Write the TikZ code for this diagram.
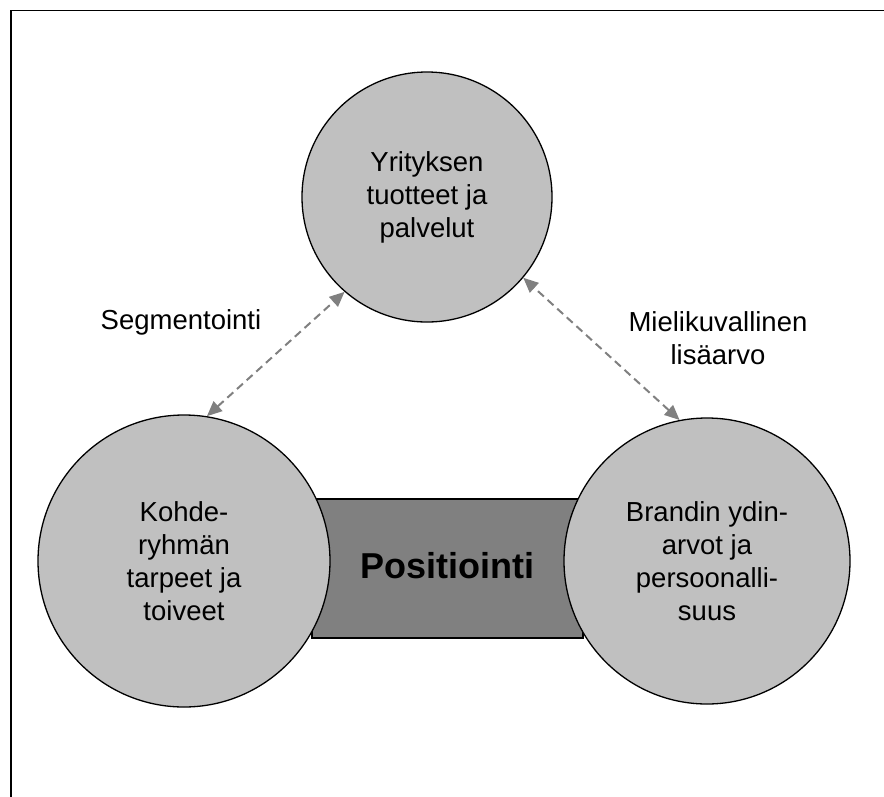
\documentclass[tikz,border=0pt]{standalone}
\usepackage{fontspec}
\setmainfont{Liberation Sans}
\usetikzlibrary{arrows.meta}
\definecolor{circgray}{RGB}{192,192,192}
\definecolor{boxgray}{RGB}{128,128,128}
\definecolor{arrgray}{RGB}{128,128,128}
\begin{document}
\begin{tikzpicture}[x=1pt,y=-1pt,
  bubble/.style={circle, draw=black, line width=1.3pt, fill=circgray, inner sep=0pt,
    minimum size=#1, align=center, font=\fontsize{27.5}{33}\selectfont},
  posbox/.style={draw=black, line width=1.3pt, fill=boxgray, inner sep=0pt,
    font=\bfseries\fontsize{36}{40}\selectfont},
  conn/.style={arrgray, line width=2pt, dash pattern=on 8pt off 5pt,
    {Triangle[length=15pt,width=13pt]}-{Triangle[length=15pt,width=13pt]}},
  lbl/.style={align=center, font=\fontsize{27.5}{33}\selectfont}]
\useasboundingbox (0,0) rectangle (884,796);
\draw[line width=1.6pt] (11,800) -- (11,10.5) -- (890,10.5);
\node[posbox, minimum width=271pt, minimum height=139pt] (pos) at (447.5,568.5) {};
\node[bubble=250pt] (t) at (427,197) {Yrityksen\\tuotteet ja\\palvelut};
\node[bubble=292pt] (l) at (184,561) {Kohde-\\ryhmän\\tarpeet ja\\toiveet};
\node[bubble=286pt] (r) at (707,561) {Brandin ydin-\\arvot ja\\persoonalli-\\suus};
\node[font=\bfseries\fontsize{36}{40}\selectfont] (ptext) at (447,566) {Positiointi};
\draw[conn] (l.81) -- (t.229);
\draw[conn] (r.101) -- (t.-40);
\node[lbl] (seg) at (181,322) {Segmentointi};
\node[lbl] (mie) at (718,338) {Mielikuvallinen\\lisäarvo};
\end{tikzpicture}
\end{document}
